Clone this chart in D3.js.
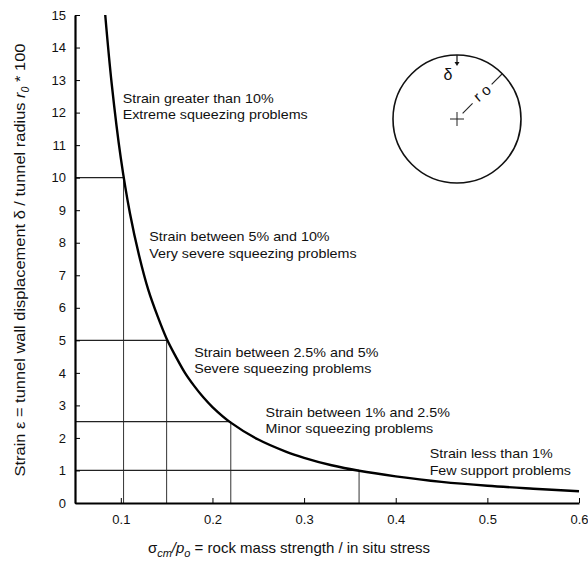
<!DOCTYPE html>
<html>
<head>
<meta charset="utf-8">
<script src="https://cdn.jsdelivr.net/npm/d3@7"></script>
<style>
  body { margin: 0; background: #fff; }
  text { font-family: "Liberation Sans", Arial, sans-serif; fill: #111; }
</style>
</head>
<body>
<div id="chart"></div>
<script>
// curve: sigma_cm/p_o vs strain (%)
const ratio = [0.083, 0.09, 0.1, 0.11, 0.12, 0.13, 0.14, 0.15, 0.16, 0.17, 0.18, 0.19, 0.2, 0.22, 0.25, 0.28, 0.3, 0.33, 0.36, 0.4, 0.45, 0.5, 0.55, 0.6];
const strain = [15, 12.9, 10.6, 8.9, 7.6, 6.55, 5.75, 5.05, 4.5, 4.0, 3.6, 3.25, 2.95, 2.47, 1.95, 1.58, 1.39, 1.16, 0.99, 0.82, 0.65, 0.53, 0.44, 0.36];

// class limits (corner where the guide lines meet the curve)
const limitX = [0.103, 0.15, 0.22, 0.36];
const limitY = [10, 5, 2.5, 1];

const xTicks = [0.1, 0.2, 0.3, 0.4, 0.5, 0.6];
const yTicks = d3.range(0, 16);

const notes = [
  ["Strain greater than 10%", "Extreme squeezing problems"],
  ["Strain between 5% and 10%", "Very severe squeezing problems"],
  ["Strain between 2.5% and 5%", "Severe squeezing problems"],
  ["Strain between 1% and 2.5%", "Minor squeezing problems"],
  ["Strain less than 1%", "Few support problems"]
];
const noteX = [0.102, 0.131, 0.18, 0.258, 0.437];
const noteY = [12.3, 8.05, 4.5, 2.65, 1.38];

const width = 588, height = 566;
const margin = { top: 15, right: 9, bottom: 63, left: 75 };

const svg = d3.select("#chart").append("svg")
  .attr("width", width)
  .attr("height", height);

const x = d3.scaleLinear().domain([0.05, 0.6]).range([margin.left, width - margin.right]);
const y = d3.scaleLinear().domain([0, 15]).range([height - margin.bottom, margin.top]);

// guide lines
limitX.forEach((lx, i) => {
  svg.append("line")
    .attr("x1", x(0.05)).attr("x2", x(lx))
    .attr("y1", y(limitY[i])).attr("y2", y(limitY[i]))
    .attr("stroke", "#222").attr("stroke-width", 1.2);
  svg.append("line")
    .attr("x1", x(lx)).attr("x2", x(lx))
    .attr("y1", y(0)).attr("y2", y(limitY[i]))
    .attr("stroke", "#333").attr("stroke-width", 1);
});

// axes
const xAxis = svg.append("g")
  .attr("transform", "translate(0," + y(0) + ")")
  .call(d3.axisBottom(x).tickValues(xTicks).tickFormat(d3.format(".1f")).tickSizeInner(-5).tickSizeOuter(0).tickPadding(12));
xAxis.select(".domain").attr("stroke-width", 2.2);
xAxis.selectAll("text").attr("font-size", 13);

const yAxis = svg.append("g")
  .attr("transform", "translate(" + x(0.05) + ",0)")
  .call(d3.axisLeft(y).tickValues(yTicks).tickSizeInner(-5).tickSizeOuter(0).tickPadding(9));
yAxis.select(".domain").attr("stroke-width", 2.2);
yAxis.selectAll("text").attr("font-size", 13);

// curve
const line = d3.line()
  .x((d, i) => x(ratio[i]))
  .y(d => y(d))
  .curve(d3.curveCatmullRom.alpha(0.5));
svg.append("path")
  .attr("d", line(strain))
  .attr("fill", "none")
  .attr("stroke", "#000")
  .attr("stroke-width", 2.4);

// annotations (the original lettering is a bit wide)
notes.forEach((n, i) => {
  const t = svg.append("text")
    .attr("transform", "translate(" + x(noteX[i]) + "," + y(noteY[i]) + ") scale(1.1,1)")
    .attr("font-size", 13);
  t.append("tspan").attr("x", 0).text(n[0]);
  t.append("tspan").attr("x", 0).attr("dy", 16.5).text(n[1]);
});

// inset tunnel sketch
const cx = 457, cy = 119, r = 64;
const inset = svg.append("g");
inset.append("circle").attr("cx", cx).attr("cy", cy).attr("r", r)
  .attr("fill", "none").attr("stroke", "#111").attr("stroke-width", 1.6);
inset.append("line").attr("x1", cx - 7).attr("x2", cx + 7).attr("y1", cy).attr("y2", cy).attr("stroke", "#222");
inset.append("line").attr("x1", cx).attr("x2", cx).attr("y1", cy - 7).attr("y2", cy + 7).attr("stroke", "#222");
const ang = -Math.PI / 4;
const pt = k => [cx + k * Math.cos(ang), cy + k * Math.sin(ang)];
[[8, 22], [49, r]].forEach(s => {
  const a = pt(s[0]), b = pt(s[1]);
  inset.append("line").attr("x1", a[0]).attr("y1", a[1]).attr("x2", b[0]).attr("y2", b[1])
    .attr("stroke", "#222").attr("stroke-width", 1.1);
});
const mid = pt(36);
inset.append("text")
  .attr("transform", "translate(" + mid[0] + "," + mid[1] + ") rotate(-40)")
  .attr("text-anchor", "middle").attr("dy", "0.3em")
  .attr("font-size", 15).text("r o");
inset.append("line").attr("x1", cx).attr("x2", cx).attr("y1", cy - r).attr("y2", cy - r + 9)
  .attr("stroke", "#111").attr("stroke-width", 1.2);
inset.append("path")
  .attr("d", "M" + (cx - 2.5) + "," + (cy - r + 7) + "L" + (cx + 2.5) + "," + (cy - r + 7) + "L" + cx + "," + (cy - r + 11) + "Z")
  .attr("fill", "#111");
inset.append("text").attr("x", cx - 9).attr("y", cy - 39)
  .attr("text-anchor", "middle").attr("font-size", 16).text("δ");

// axis titles
const yLab = svg.append("text")
  .attr("transform", "translate(25,260) rotate(-90) scale(1.06,1)")
  .attr("text-anchor", "middle")
  .attr("font-size", 15.5);
yLab.append("tspan").text("Strain ε = tunnel wall displacement  δ / tunnel radius ");
yLab.append("tspan").attr("font-style", "italic").text("r");
yLab.append("tspan").attr("font-style", "italic").attr("font-size", 10).attr("dy", 4).text("0");
yLab.append("tspan").attr("dy", -4).text(" * 100");

const xLab = svg.append("text")
  .attr("x", 289).attr("y", 553)
  .attr("text-anchor", "middle")
  .attr("font-size", 15);
xLab.append("tspan").text("σ");
xLab.append("tspan").attr("font-style", "italic").attr("font-size", 11).attr("dy", 4).text("cm");
xLab.append("tspan").attr("dy", -4).attr("font-style", "italic").text("/p");
xLab.append("tspan").attr("font-style", "italic").attr("font-size", 11).attr("dy", 4).text("o");
xLab.append("tspan").attr("dy", -4).text(" = rock mass strength / in situ stress");
</script>
</body>
</html>
